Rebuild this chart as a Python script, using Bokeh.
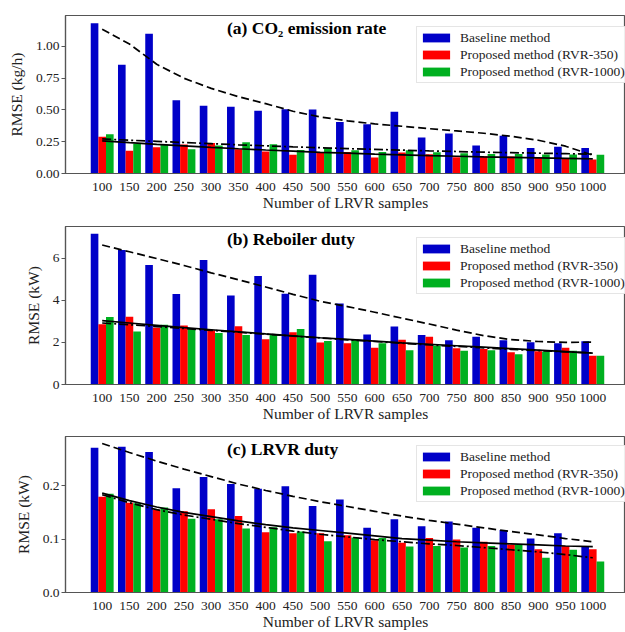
from bokeh.plotting import figure
from bokeh.layouts import column
from bokeh.models import (ColumnDataSource, Range1d, FixedTicker, NumeralTickFormatter,
                          Label)
from bokeh.transform import dodge
from bokeh.embed import file_html
from bokeh.resources import INLINE

# ---------------- data ----------------
samples = [100, 150, 200, 250, 300, 350, 400, 450, 500, 550,
           600, 650, 700, 750, 800, 850, 900, 950, 1000]

a_base = [1.183, 0.856, 1.10, 0.576, 0.534, 0.526, 0.495, 0.505, 0.503, 0.406,
          0.387, 0.487, 0.283, 0.314, 0.22, 0.298, 0.20, 0.21, 0.20]
a_r350 = [0.29, 0.18, 0.207, 0.228, 0.24, 0.19, 0.173, 0.147, 0.165, 0.17,
          0.126, 0.165, 0.152, 0.128, 0.136, 0.134, 0.126, 0.12, 0.11]
a_r1000 = [0.31, 0.235, 0.228, 0.19, 0.22, 0.246, 0.23, 0.186, 0.20, 0.183,
           0.17, 0.183, 0.168, 0.16, 0.154, 0.154, 0.149, 0.149, 0.147]
a_fit_base = [1.136, 1.02, 0.86, 0.75, 0.67, 0.605, 0.55, 0.49, 0.445, 0.415,
              0.39, 0.372, 0.353, 0.335, 0.317, 0.293, 0.262, 0.215, 0.144]
a_fit_r350 = [0.257, 0.243, 0.230, 0.218, 0.206, 0.195, 0.185, 0.176, 0.167, 0.160,
              0.153, 0.147, 0.141, 0.136, 0.131, 0.127, 0.123, 0.119, 0.115]
a_fit_r1000 = [0.272, 0.262, 0.253, 0.244, 0.235, 0.226, 0.218, 0.210, 0.203, 0.196,
               0.190, 0.184, 0.178, 0.173, 0.168, 0.164, 0.160, 0.156, 0.152]

b_base = [7.16, 6.38, 5.67, 4.30, 5.91, 4.23, 5.15, 4.31, 5.21, 3.85,
          2.37, 2.75, 2.35, 2.10, 2.27, 2.10, 2.01, 1.96, 2.05]
b_r350 = [2.86, 3.22, 2.69, 2.80, 2.57, 2.76, 2.15, 2.48, 1.99, 1.96,
          1.74, 2.13, 2.27, 1.72, 1.69, 1.53, 1.58, 1.74, 1.37]
b_r1000 = [3.21, 2.51, 2.84, 2.64, 2.45, 2.35, 2.35, 2.64, 2.07, 2.12,
           1.96, 1.63, 1.85, 1.60, 1.63, 1.44, 1.56, 1.60, 1.36]
b_fit_base = [6.62, 6.30, 5.98, 5.65, 5.30, 4.97, 4.63, 4.28, 3.95, 3.70,
              3.43, 3.15, 2.87, 2.58, 2.32, 2.13, 2.04, 2.00, 2.01]
b_fit_r350 = [3.03, 2.92, 2.81, 2.70, 2.60, 2.50, 2.40, 2.31, 2.22, 2.14,
              2.06, 1.98, 1.91, 1.84, 1.77, 1.70, 1.63, 1.56, 1.49]
b_fit_r1000 = [2.92, 2.84, 2.75, 2.66, 2.57, 2.48, 2.39, 2.30, 2.21, 2.12,
               2.04, 1.96, 1.88, 1.81, 1.74, 1.67, 1.61, 1.55, 1.50]

c_base = [0.271, 0.273, 0.263, 0.195, 0.216, 0.203, 0.194, 0.199, 0.162, 0.174,
          0.121, 0.137, 0.124, 0.133, 0.121, 0.117, 0.101, 0.111, 0.086]
c_r350 = [0.179, 0.168, 0.155, 0.152, 0.156, 0.143, 0.113, 0.111, 0.111, 0.107,
          0.098, 0.093, 0.102, 0.099, 0.095, 0.090, 0.081, 0.087, 0.081]
c_r1000 = [0.185, 0.167, 0.159, 0.138, 0.137, 0.120, 0.122, 0.114, 0.096, 0.103,
           0.102, 0.086, 0.087, 0.084, 0.087, 0.090, 0.065, 0.080, 0.058]
c_fit_base = [0.279, 0.262, 0.246, 0.231, 0.217, 0.203, 0.191, 0.180, 0.170, 0.161,
              0.152, 0.143, 0.135, 0.128, 0.121, 0.114, 0.108, 0.101, 0.095]
c_fit_r350 = [0.186, 0.172, 0.160, 0.150, 0.142, 0.134, 0.127, 0.121, 0.116, 0.111,
              0.106, 0.101, 0.098, 0.095, 0.093, 0.091, 0.089, 0.087, 0.086]
c_fit_r1000 = [0.183, 0.168, 0.155, 0.145, 0.137, 0.129, 0.122, 0.115, 0.109, 0.104,
               0.099, 0.095, 0.091, 0.088, 0.084, 0.080, 0.076, 0.071, 0.065]

series_labels = ["Baseline method", "Proposed method (RVR-350)", "Proposed method (RVR-1000)"]
colors = ["#0000C8", "#FF0000", "#00B020"]

FONT = "Liberation Serif"
TXT = "#222222"
AXC = "#555555"


def make_panel(title, ylabel, base, r350, r1000, fb, f350, f1000,
               ymax, yticks, yfmt, top_border, bottom_border, height, title_dy):
    src = ColumnDataSource(dict(n=samples, base=base, r350=r350, r1000=r1000,
                                fb=fb, f350=f350, f1000=f1000))
    p = figure(width=625, height=height, output_backend="svg", toolbar_location=None,
               x_range=Range1d(32.7, 1060.0), y_range=Range1d(0, ymax),
               min_border_left=65, min_border_right=0,
               min_border_top=top_border, min_border_bottom=bottom_border)
    p.xgrid.visible = False
    p.ygrid.visible = False
    p.outline_line_color = AXC
    p.outline_line_width = 1.2

    bw = 14
    for col, off, c, lab in zip(["base", "r350", "r1000"], [-14, 0, 14], colors, series_labels):
        p.vbar(x=dodge("n", off, range=p.x_range), top=col, width=bw, source=src,
               fill_color=c, line_color=None, legend_label=lab)

    p.line("n", "fb", source=src, line_color="black", line_width=1.7, line_dash="8 4")
    p.line("n", "f350", source=src, line_color="black", line_width=1.7)
    p.line("n", "f1000", source=src, line_color="black", line_width=1.7, line_dash="9 3 2 3")

    # axes
    p.xaxis.ticker = FixedTicker(ticks=samples)
    p.xaxis.axis_label = "Number of LRVR samples"
    p.yaxis.ticker = FixedTicker(ticks=yticks)
    p.yaxis.formatter = NumeralTickFormatter(format=yfmt)
    p.yaxis.axis_label = ylabel
    for ax in (p.xaxis[0], p.yaxis[0]):
        ax.axis_line_color = AXC
        ax.axis_line_width = 1.2
        ax.major_tick_line_color = AXC
        ax.minor_tick_line_color = None
        ax.major_label_text_font = FONT
        ax.major_label_text_font_size = "13.5px"
        ax.major_label_text_color = TXT
        ax.axis_label_text_font = FONT
        ax.axis_label_text_font_size = "15.5px"
        ax.axis_label_text_font_style = "normal"
        ax.axis_label_text_color = TXT
    p.xaxis.major_tick_out = 0
    p.xaxis.major_tick_in = 0
    p.xaxis.major_label_standoff = 9
    p.xaxis.axis_label_standoff = 0
    p.yaxis.major_tick_out = 4
    p.yaxis.major_tick_in = 0
    p.yaxis.major_label_standoff = 2
    p.yaxis.axis_label_standoff = 8

    # legend
    lg = p.legend[0]
    lg.location = (351, 90)
    lg.label_text_font = FONT
    lg.label_text_font_size = "13.5px"
    lg.label_text_color = TXT
    lg.glyph_width = 34
    lg.glyph_height = 11
    lg.label_height = 17
    lg.spacing = 0
    lg.padding = 2
    lg.margin = 0
    lg.label_standoff = 7
    lg.border_line_color = "#CCCCCC"
    lg.border_line_width = 1
    lg.background_fill_alpha = 0.9

    # panel title
    yt = ymax * (1 - title_dy / 158.0)
    p.add_layout(Label(x=329, y=yt, text=title, text_font=FONT, text_font_style="bold",
                       text_font_size="17.5px", text_color="black", text_baseline="middle"))
    return p


pa = make_panel("(a) CO\u2082 emission rate", "RMSE (kg/h)", a_base, a_r350, a_r1000,
                a_fit_base, a_fit_r350, a_fit_r1000, 1.244, [0, 0.25, 0.5, 0.75, 1.0], "0.00",
                15, 45, 218, 12.5)
pb = make_panel("(b) Reboiler duty", "RMSE (kW)", b_base, b_r350, b_r1000,
                b_fit_base, b_fit_r350, b_fit_r1000, 7.5, [0, 2, 4, 6], "0",
                8, 44, 210, 12.5)
pc = make_panel("(c) LRVR duty", "RMSE (kW)", c_base, c_r350, c_r1000,
                c_fit_base, c_fit_r350, c_fit_r1000, 0.292, [0.0, 0.1, 0.2], "0.0",
                8, 38, 204, 12.5)

layout = column(pa, pb, pc, spacing=0)
open("out.html", "w").write(file_html(layout, INLINE))
